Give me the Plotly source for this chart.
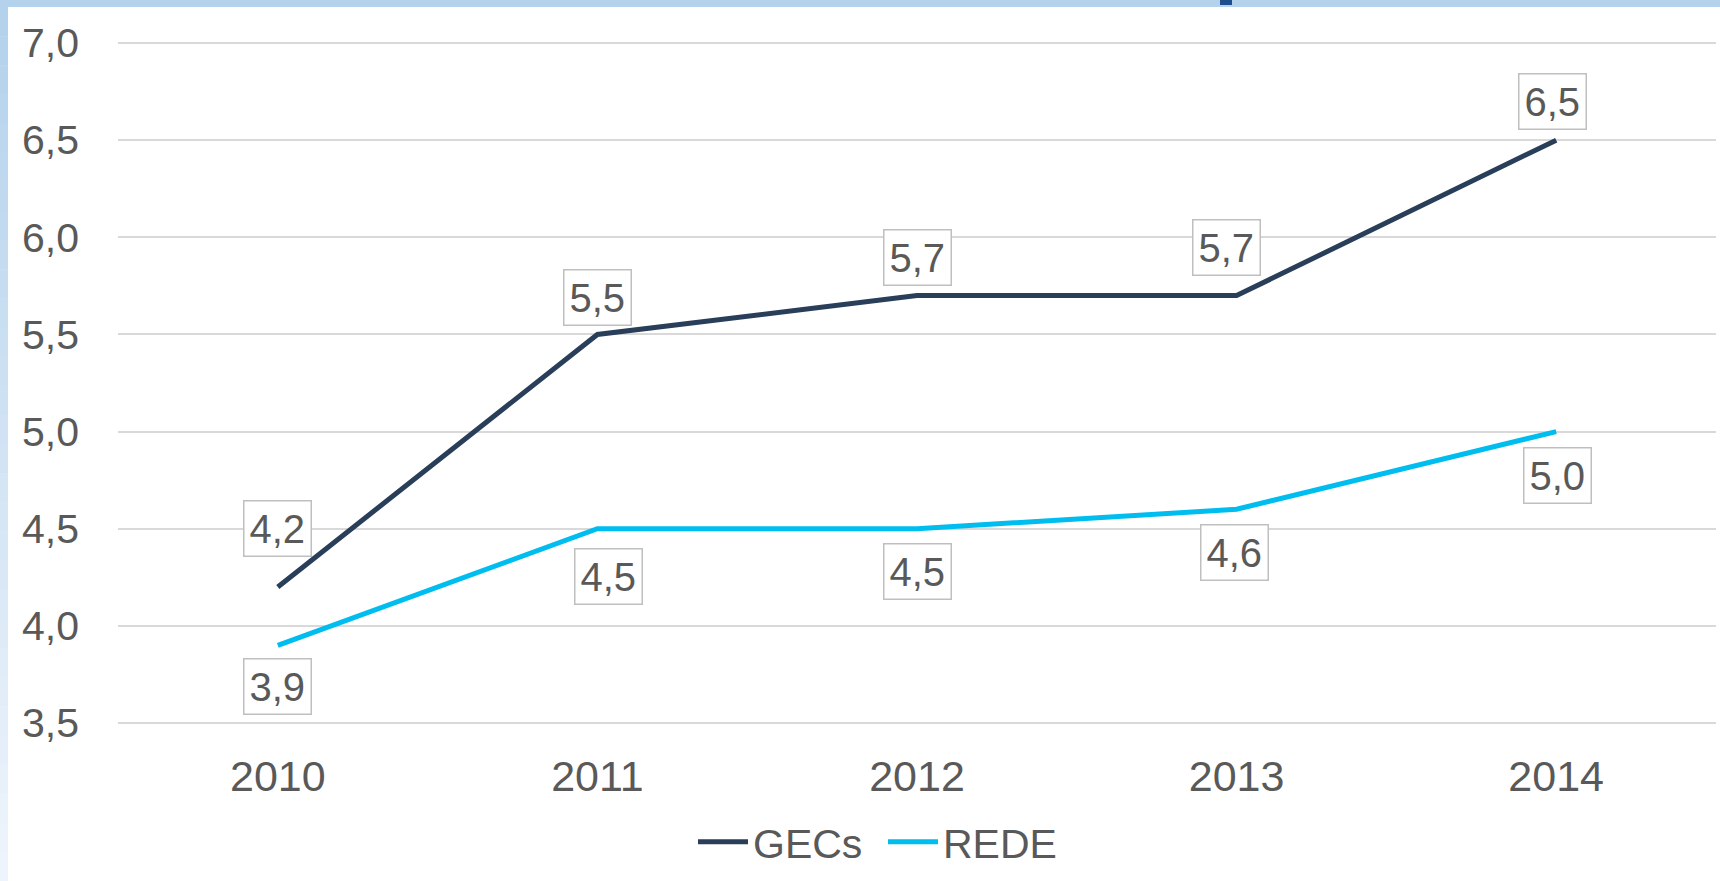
import plotly.graph_objects as go

years = ["2010", "2011", "2012", "2013", "2014"]
gecs = [4.2, 5.5, 5.7, 5.7, 6.5]
rede = [3.9, 4.5, 4.5, 4.6, 5.0]
y_ticks = [3.5, 4.0, 4.5, 5.0, 5.5, 6.0, 6.5, 7.0]
y_tick_text = ["3,5", "4,0", "4,5", "5,0", "5,5", "6,0", "6,5", "7,0"]

# label offsets (pixels) for data labels
gecs_ax = [0, 0, 0, -10, -4]
gecs_ay = [-59, -37, -38, -48, -39]
rede_ax = [0, 11, 0, -2, 1]
rede_ay = [41, 48, 43, 43, 44]

W, H = 1720, 881
L, R, T, B = 118, 4, 41, 156
PW = W - L - R
PH = H - T - B
UNIT = 680 / 3.5          # px per unit on the value axis
PADV = 2 / UNIT           # keep 7,0 / 3,5 grid lines just inside the plot

def px(x):
    return (x - L) / PW

def py(y):
    return (H - B - y) / PH

C_GECS = "#283e59"
C_REDE = "#00bdef"
TXT = "#595959"
FONT = "Liberation Sans, Arial, sans-serif"

fig = go.Figure()
fig.add_trace(go.Scatter(x=years, y=gecs, name="GECs", mode="lines",
                         line=dict(color=C_GECS, width=5)))
fig.add_trace(go.Scatter(x=years, y=rede, name="REDE", mode="lines",
                         line=dict(color=C_REDE, width=5)))

def fmt(v):
    return f"{v:.1f}".replace(".", ",")

anns = []
for i, yr in enumerate(years):
    anns.append(dict(x=i, y=gecs[i], xref="x", yref="y", text=fmt(gecs[i]), showarrow=True,
                     arrowcolor="rgba(0,0,0,0)", ax=gecs_ax[i], ay=gecs_ay[i],
                     bordercolor="#bfbfbf", borderwidth=1.5, borderpad=5,
                     bgcolor="white", font=dict(size=40, color=TXT, family=FONT)))
    anns.append(dict(x=i, y=rede[i], xref="x", yref="y", text=fmt(rede[i]), showarrow=True,
                     arrowcolor="rgba(0,0,0,0)", ax=rede_ax[i], ay=rede_ay[i],
                     bordercolor="#bfbfbf", borderwidth=1.5, borderpad=5,
                     bgcolor="white", font=dict(size=40, color=TXT, family=FONT)))

shapes = []
# top band
shapes.append(dict(type="rect", xref="paper", yref="paper",
                   x0=px(0), x1=px(W), y0=py(7), y1=py(0),
                   fillcolor="#b4d2ec", line=dict(width=0), layer="below"))
# left band gradient
n = 30
c0 = (180, 210, 236)
c1 = (238, 244, 251)
for k in range(n):
    t = k / (n - 1)
    col = tuple(int(round(c0[j] + (c1[j] - c0[j]) * t)) for j in range(3))
    y0p = 7 + (H - 7) * k / n
    y1p = 7 + (H - 7) * (k + 1) / n
    shapes.append(dict(type="rect", xref="paper", yref="paper",
                       x0=px(0), x1=px(8), y0=py(y1p + 0.5), y1=py(y0p),
                       fillcolor="rgb(%d,%d,%d)" % col, line=dict(width=0), layer="below"))
# small dark mark at top
shapes.append(dict(type="rect", xref="paper", yref="paper",
                   x0=px(1220), x1=px(1232), y0=py(5), y1=py(0),
                   fillcolor="#1f4e8c", line=dict(width=0), layer="below"))

fig.update_layout(
    width=W, height=H,
    margin=dict(l=L, r=R, t=T, b=B, pad=0),
    paper_bgcolor="white", plot_bgcolor="white",
    font=dict(family=FONT, size=40, color=TXT),
    showlegend=True,
    legend=dict(orientation="h", x=px(883), xanchor="center",
                y=py(842), yanchor="middle", font=dict(size=41, color=TXT),
                itemwidth=50, entrywidth=125, entrywidthmode="pixels",
                tracegroupgap=0, bgcolor="rgba(0,0,0,0)"),
    annotations=anns,
    shapes=shapes,
    xaxis=dict(type="category", range=[-0.5, 4.5], showgrid=False, zeroline=False,
               showline=False, ticks="", ticklabelstandoff=22,
               tickfont=dict(size=43, color=TXT, family=FONT)),
    yaxis=dict(range=[3.5 - PADV, 7.0 + PADV], tickvals=y_ticks, ticktext=y_tick_text,
               showgrid=True, gridcolor="#d9d9d9", gridwidth=2, zeroline=False,
               showline=False, ticks="", ticklabelstandoff=38,
               tickfont=dict(size=41, color=TXT, family=FONT)),
)

fig.write_html("out.html", config={"displayModeBar": False},
               post_script="document.body.style.margin='0';document.body.style.overflow='hidden';")
